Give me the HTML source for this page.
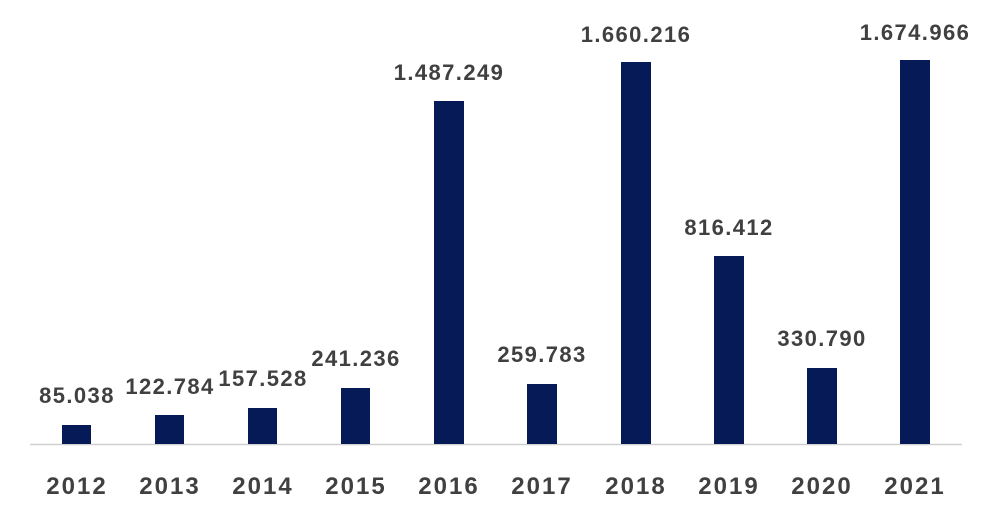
<!DOCTYPE html>
<html><head><style>
html,body{margin:0;padding:0;background:#fff;}
svg text{font-family:"Liberation Sans",sans-serif;font-weight:bold;fill:#404040;text-anchor:middle;}
</style></head><body>
<svg width="992" height="522" viewBox="0 0 992 522" xmlns="http://www.w3.org/2000/svg">
<rect width="992" height="522" fill="#fff"/>
<line x1="30" y1="444.5" x2="962" y2="444.5" stroke="#d0d0d0" stroke-width="1.5"/>
<g fill="#061a58">
<rect x="62" y="425" width="29" height="19"/>
<rect x="155" y="415" width="29" height="29"/>
<rect x="248" y="408" width="29" height="36"/>
<rect x="341" y="388" width="29" height="56"/>
<rect x="434" y="101" width="30" height="343"/>
<rect x="527" y="384" width="30" height="60"/>
<rect x="621" y="62" width="30" height="382"/>
<rect x="714" y="256" width="30" height="188"/>
<rect x="807" y="368" width="30" height="76"/>
<rect x="900" y="60" width="30" height="384"/>
</g>
<g font-size="22" letter-spacing="1.4">
<text x="77" y="403">85.038</text>
<text x="170" y="394">122.784</text>
<text x="263" y="386">157.528</text>
<text x="356" y="366">241.236</text>
<text x="449" y="80">1.487.249</text>
<text x="542" y="362">259.783</text>
<text x="636" y="42">1.660.216</text>
<text x="729" y="235">816.412</text>
<text x="822" y="346">330.790</text>
<text x="915" y="40">1.674.966</text>
</g>
<g font-size="24" letter-spacing="2">
<text x="77" y="494">2012</text>
<text x="170" y="494">2013</text>
<text x="263" y="494">2014</text>
<text x="356" y="494">2015</text>
<text x="449" y="494">2016</text>
<text x="542" y="494">2017</text>
<text x="636" y="494">2018</text>
<text x="729" y="494">2019</text>
<text x="822" y="494">2020</text>
<text x="915" y="494">2021</text>
</g>
</svg>
</body></html>
